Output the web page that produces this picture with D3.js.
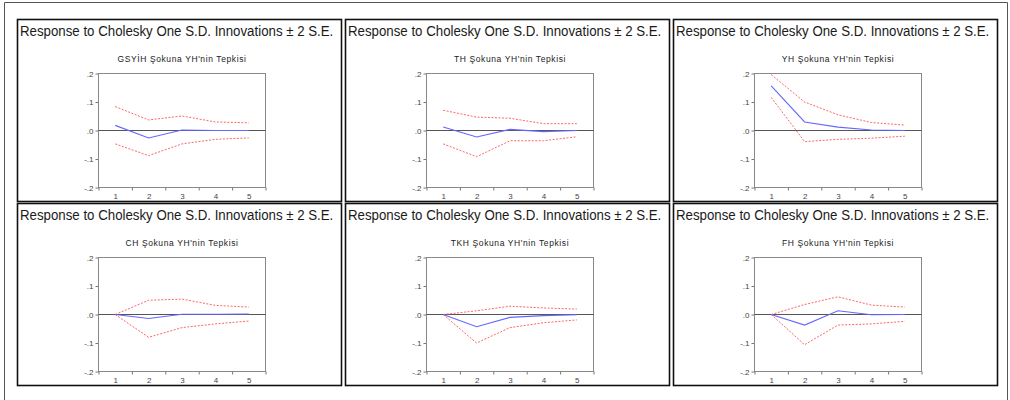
<!DOCTYPE html>
<html>
<head>
<meta charset="utf-8">
<script src="https://cdn.jsdelivr.net/npm/d3@7"></script>
<style>
  body { margin: 0; background: #fff; }
  svg { display: block; }
</style>
</head>
<body>
<script>
// veriler: her panel icin etki-tepki ve +-2 S.E. bantlari
var steps = [1, 2, 3, 4, 5];
var mainTitle = "Response to Cholesky One S.D. Innovations \u00b1 2 S.E.";
var subTitles = ["GSY\u0130H \u015eokuna YH'nin Tepkisi", "TH \u015eokuna YH'nin Tepkisi", "YH \u015eokuna YH'nin Tepkisi",
                 "CH \u015eokuna YH'nin Tepkisi", "TKH \u015eokuna YH'nin Tepkisi", "FH \u015eokuna YH'nin Tepkisi"];
var responses = [
    [0.018, -0.026, 0.002, 0.000, 0.000],
    [0.012, -0.023, 0.004, -0.004, 0.000],
    [0.157, 0.030, 0.012, 0.002, 0.000],
    [0.000, -0.014, 0.001, 0.001, 0.002],
    [0.000, -0.043, -0.010, -0.004, -0.001],
    [0.000, -0.037, 0.013, -0.001, 0.000]
];
var upperBands = [
    [0.084, 0.037, 0.051, 0.030, 0.027],
    [0.071, 0.047, 0.043, 0.024, 0.024],
    [0.196, 0.100, 0.055, 0.028, 0.019],
    [0.000, 0.050, 0.054, 0.032, 0.026],
    [0.000, 0.013, 0.029, 0.023, 0.019],
    [0.000, 0.035, 0.062, 0.033, 0.026]
];
var lowerBands = [
    [-0.047, -0.088, -0.047, -0.031, -0.026],
    [-0.047, -0.092, -0.036, -0.036, -0.022],
    [0.116, -0.039, -0.031, -0.027, -0.020],
    [0.000, -0.080, -0.046, -0.033, -0.023],
    [0.000, -0.100, -0.046, -0.029, -0.019],
    [0.000, -0.106, -0.037, -0.033, -0.024]
];
var yTicks = [0.2, 0.1, 0, -0.1, -0.2];
var yTickLabels = [".2", ".1", ".0", "-.1", "-.2"];

var width = 1010, height = 400;
var panelW = 324, panelH = 182, gap = 4;
var panelX0 = 17.5, panelY0 = 19.5;
var plotLeft = 81, plotTop = 54, plotW = 167, plotH = 114;

var svg = d3.select("body").append("svg")
    .attr("width", width).attr("height", height)
    .style("font-family", "'Liberation Sans', Arial, sans-serif");

// dis cerceve
svg.append("path")
    .attr("d", "M4.5,400 V2.5 H1007.5 V400")
    .attr("fill", "none").attr("stroke", "#555").attr("stroke-width", 1);

var x = d3.scaleLinear().domain([0.5, 5.5]).range([0, plotW]);
var y = d3.scaleLinear().domain([-0.2, 0.2]).range([plotH, 0]);

var line = d3.line()
    .x(function(d, i) { return x(steps[i]); })
    .y(function(d) { return y(d); });

for (var p = 0; p < 6; p++) {
    var col = p % 3, row = Math.floor(p / 3);
    var px = panelX0 + col * (panelW + gap);
    var py = panelY0 + row * (panelH + gap - 2);

    var panel = svg.append("g").attr("transform", "translate(" + px + "," + py + ")");

    panel.append("rect")
        .attr("width", panelW).attr("height", panelH)
        .attr("fill", "#fff").attr("stroke", "#111").attr("stroke-width", 1.6);

    // baslik yatayda biraz sikistirilmis
    panel.append("text")
        .attr("transform", "translate(2.5,16.5) scale(0.91,1)")
        .attr("font-size", 14.6)
        .attr("fill", "#1a1a1a")
        .text(mainTitle);

    panel.append("text")
        .attr("x", plotLeft + plotW / 2).attr("y", 42.5)
        .attr("text-anchor", "middle")
        .attr("font-size", 8.5)
        .attr("letter-spacing", 0.6)
        .attr("fill", "#222")
        .text(subTitles[p]);

    var chart = panel.append("g").attr("transform", "translate(" + plotLeft + "," + plotTop + ")");

    // y ekseni
    var yAxis = d3.axisLeft(y).tickValues(yTicks)
        .tickFormat(function(d, i) { return yTickLabels[i]; })
        .tickSize(3).tickPadding(2);
    var ya = chart.append("g").call(yAxis);
    ya.select(".domain").remove();
    ya.selectAll("line").attr("stroke", "#777");
    ya.selectAll("text").attr("font-size", 8).attr("fill", "#444")
        .attr("font-family", "'Liberation Sans', Arial, sans-serif");

    // x ekseni: etiketler merkezde, isaretler aralarda
    var xAxis = d3.axisBottom(x).tickValues(steps).tickFormat(d3.format("d")).tickSize(0).tickPadding(6);
    var xa = chart.append("g").attr("transform", "translate(0," + plotH + ")").call(xAxis);
    xa.select(".domain").remove();
    xa.selectAll("text").attr("font-size", 8).attr("fill", "#444")
        .attr("font-family", "'Liberation Sans', Arial, sans-serif");
    var xMinor = d3.axisBottom(x).tickValues([0.5, 1.5, 2.5, 3.5, 4.5, 5.5]).tickSize(3).tickFormat("");
    var xm = chart.append("g").attr("transform", "translate(0," + plotH + ")").call(xMinor);
    xm.select(".domain").remove();
    xm.selectAll("line").attr("stroke", "#777");

    chart.append("rect")
        .attr("width", plotW).attr("height", plotH)
        .attr("fill", "none").attr("stroke", "#888").attr("stroke-width", 1);

    chart.append("line")
        .attr("x1", 0).attr("x2", plotW)
        .attr("y1", y(0)).attr("y2", y(0))
        .attr("stroke", "#555").attr("stroke-width", 1);

    chart.append("path").datum(upperBands[p])
        .attr("d", line).attr("fill", "none")
        .attr("stroke", "#ff6666").attr("stroke-width", 1).attr("stroke-dasharray", "2,1.5");
    chart.append("path").datum(lowerBands[p])
        .attr("d", line).attr("fill", "none")
        .attr("stroke", "#ff6666").attr("stroke-width", 1).attr("stroke-dasharray", "2,1.5");
    chart.append("path").datum(responses[p])
        .attr("d", line).attr("fill", "none")
        .attr("stroke", "#6666ff").attr("stroke-width", 1.1);
}
</script>
</body>
</html>
